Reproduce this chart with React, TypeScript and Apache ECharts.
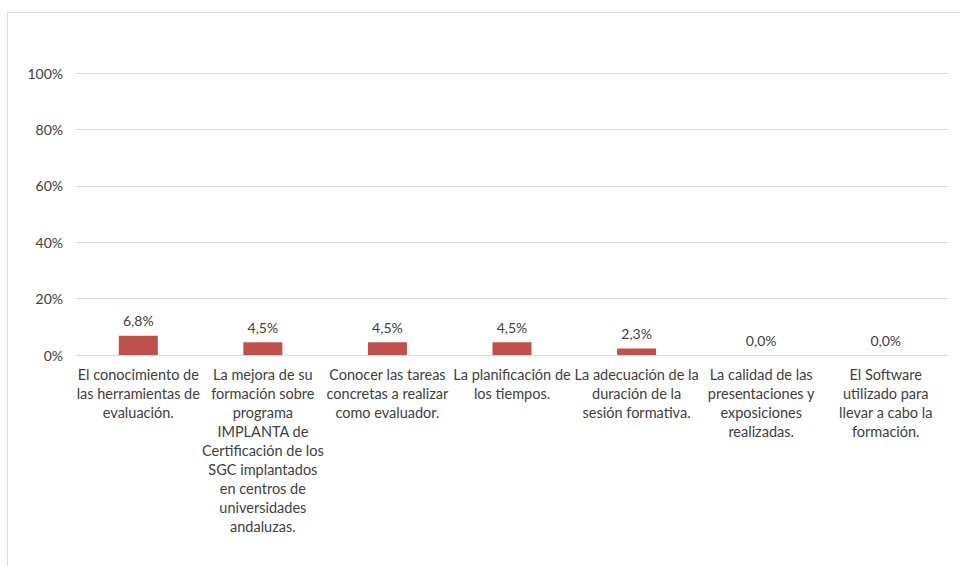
import React, { useEffect, useRef } from "react";
import * as echarts from "echarts";

const categories = [
  "El conocimiento de\nlas herramientas de\nevaluación.",
  "La mejora de su\nformación sobre\nprograma\nIMPLANTA de\nCertificación de los\nSGC implantados\nen centros de\nuniversidades\nandaluzas.",
  "Conocer las tareas\nconcretas a realizar\ncomo evaluador.",
  "La planificación de\nlos tiempos.",
  "La adecuación de la\nduración de la\nsesión formativa.",
  "La calidad de las\npresentaciones y\nexposiciones\nrealizadas.",
  "El Software\nutilizado para\nllevar a cabo la\nformación.",
];
const values = [0.068, 0.045, 0.045, 0.045, 0.023, 0.0, 0.0];
const yTicks = [0, 0.2, 0.4, 0.6, 0.8, 1.0];

const FONT = "Lato, 'Open Sans', sans-serif";

export default function App() {
  const ref = useRef<HTMLDivElement>(null);
  useEffect(() => {
    if (!ref.current) return;
    const chart = echarts.init(ref.current, undefined, { renderer: "svg" });
    chart.setOption({
      animation: false,
      graphic: [
        {
          type: "rect",
          shape: { x: 7.5, y: 12.5, width: 1000, height: 600 },
          style: { fill: "none", stroke: "#d9d9d9", lineWidth: 1 },
          silent: true,
        },
      ],
      grid: { left: 76, right: 12, top: 73, bottom: 211 },
      xAxis: {
        type: "category",
        data: categories,
        axisTick: { show: false },
        axisLine: { lineStyle: { color: "#d9d9d9" } },
        axisLabel: {
          interval: 0,
          color: "#404040",
          fontFamily: FONT,
          fontSize: 14.5,
          lineHeight: 19,
          margin: 10,
          align: "center",
        },
      },
      yAxis: {
        type: "value",
        min: 0,
        max: yTicks[yTicks.length - 1],
        interval: 0.2,
        axisLine: { show: false },
        axisTick: { show: false },
        splitLine: { lineStyle: { color: "#d9d9d9" } },
        axisLabel: {
          color: "#404040",
          fontFamily: FONT,
          fontSize: 14,
          margin: 13,
          formatter: (v: number) => Math.round(v * 100) + "%",
        },
      },
      series: [
        {
          type: "bar",
          data: values,
          barWidth: 39,
          itemStyle: { color: "#c0504d" },
          label: {
            show: true,
            position: "top",
            distance: 8,
            color: "#404040",
            fontFamily: FONT,
            fontSize: 14,
            formatter: (p: any) => (p.value * 100).toFixed(1).replace(".", ",") + "%",
          },
        },
      ],
    });
    return () => chart.dispose();
  }, []);
  return <div ref={ref} style={{ width: 960, height: 566, position: "absolute", left: 0, top: 0 }} />;
}
